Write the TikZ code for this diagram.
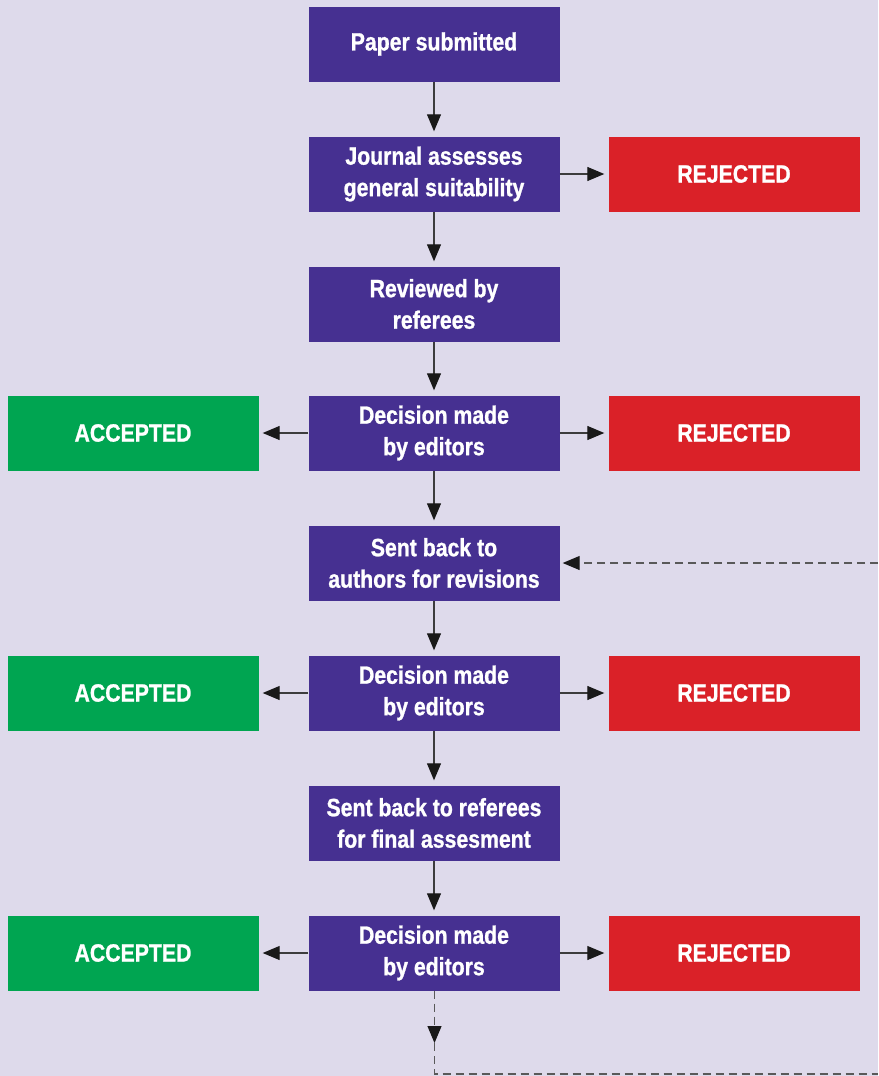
\documentclass[tikz,border=0pt]{standalone}
\usepackage{fontspec}
\setmainfont{Liberation Sans}[FakeStretch=0.85,BoldFeatures={FakeBold=1}]
\usetikzlibrary{arrows.meta}
\definecolor{bgpaper}{RGB}{222,218,235}
\definecolor{stagepurple}{RGB}{70,48,145}
\definecolor{acceptgreen}{RGB}{0,165,81}
\definecolor{rejectred}{RGB}{218,33,40}
\definecolor{flowgrey}{RGB}{60,60,60}
\tikzset{
  box/.style={minimum width=251pt,minimum height=75pt,inner sep=0pt,align=center,
    text=white,font=\bfseries\fontsize{25}{31.5}\selectfont},
  stage/.style={box,fill=stagepurple},
  accept/.style={box,fill=acceptgreen},
  reject/.style={box,fill=rejectred},
  flow/.style={draw=flowgrey,line width=1.2pt,-{Triangle[length=17pt,width=14pt,color=black!90]}},
  loopback/.style={flow,draw=black!65,dash pattern=on 8pt off 5pt}
}
\begin{document}
\begin{tikzpicture}[x=1pt,y=-1pt]
\fill[bgpaper] (0,0) rectangle (878,1076);
\useasboundingbox (0,0) rectangle (878,1076);
% main column
\node[stage] (s1) at (434,44) {Paper submitted};
\node[stage] (s2) at (434,174) {Journal assesses\\general suitability};
\node[stage] (s3) at (434,304) {Reviewed by\\referees};
\node[stage] (s4) at (434,433) {Decision made\\by editors};
\node[stage] (s5) at (434,563) {Sent back to\\authors for revisions};
\node[stage] (s6) at (434,693) {Decision made\\by editors};
\node[stage] (s7) at (434,823) {Sent back to referees\\for final assesment};
\node[stage] (s8) at (434,953) {Decision made\\by editors};
% outcomes
\node[reject] (r1) at (734,174) {REJECTED};
\foreach \n/\y in {2/433,3/693,4/953}{
  \node[accept] (a\n) at (133,\y) {ACCEPTED};
  \node[reject] (r\n) at (734,\y) {REJECTED};
}
% arrows
\foreach \a/\b in {s1/s2,s2/s3,s3/s4,s4/s5,s5/s6,s6/s7,s7/s8}
  \draw[flow,shorten >=5pt] (\a) -- (\b);
\foreach \a/\b in {s2/r1,s4/r2,s6/r3,s8/r4}
  \draw[flow,shorten >=4pt] (\a) -- (\b);
\foreach \a/\b in {s4/a2,s6/a3,s8/a4}
  \draw[flow,shorten >=4pt] (\a) -- (\b);
% revision loop
\coordinate (loopin) at (878,563);
\coordinate (looptip) at (434.5,1043);
\coordinate (loopcorner) at (434.5,1074);
\coordinate (loopout) at (878,1074);
\draw[loopback,shorten >=3pt] (loopin) -- (s5.east);
\draw[loopback] (s8.south -| looptip) -- (looptip);
\draw[loopback,-] (looptip) -- (loopcorner) -- (loopout);
\end{tikzpicture}
\end{document}
